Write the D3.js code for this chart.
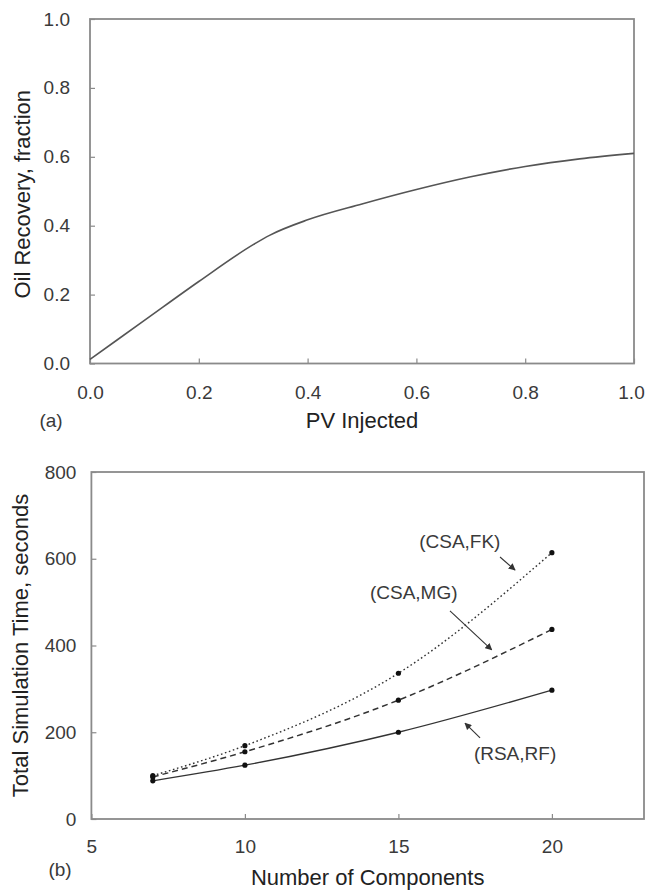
<!DOCTYPE html>
<html>
<head>
<meta charset="utf-8">
<script src="https://cdn.jsdelivr.net/npm/d3@7"></script>
<style>
  html, body { margin: 0; padding: 0; background: #fff; }
  svg { display: block; }
  text { font-family: "Liberation Sans", Arial, Helvetica, sans-serif; }
</style>
</head>
<body>
<svg id="chart" width="646" height="892"></svg>
<script>
// ---------- Data: panel (a) ----------
const pvInjected   = [0.0, 0.1, 0.2, 0.3, 0.33, 0.4, 0.5, 0.6, 0.7, 0.8, 0.9, 1.0];
const oilRecovery  = [0.012, 0.125, 0.238, 0.345, 0.372, 0.417, 0.463, 0.505, 0.542, 0.572, 0.594, 0.610];
const ticksA       = [0.0, 0.2, 0.4, 0.6, 0.8, 1.0];

// ---------- Data: panel (b) ----------
const components   = [7, 10, 15, 20];
const seriesNames  = ["(CSA,FK)", "(CSA,MG)", "(RSA,RF)"];
const timeCSAFK    = [100, 169, 336, 614];
const timeCSAMG    = [97, 155, 274, 437];
const timeRSARF    = [88, 124, 200, 297];
const xTicksB      = [5, 10, 15, 20];
const yTicksB      = [0, 200, 400, 600, 800];

const svg = d3.select("#chart");

const defs = svg.append("defs");
defs.append("marker")
  .attr("id", "arrow")
  .attr("viewBox", "0 0 10 10")
  .attr("refX", 9).attr("refY", 5)
  .attr("markerWidth", 7).attr("markerHeight", 7)
  .attr("markerUnits", "userSpaceOnUse")
  .attr("orient", "auto")
  .append("path")
  .attr("d", "M0,0 L10,5 L0,10 z")
  .attr("fill", "#333");

const frameColor = "#8a8a8a";
const labelColor = "#3a3a3a";

function styleAxis(g) {
  g.select(".domain").remove();
  g.selectAll(".tick line").attr("stroke", frameColor).attr("stroke-width", 1.2);
  g.selectAll(".tick text").attr("fill", labelColor).style("font-size", "19px");
}

// ================= Panel (a) =================
const A = { left: 90, right: 634, top: 19, bottom: 363.5 };
const xA = d3.scaleLinear().domain([0, 1]).range([A.left, A.right]);
const yA = d3.scaleLinear().domain([0, 1]).range([A.bottom, A.top]);

const xAxisA = svg.append("g")
  .attr("transform", `translate(0,${A.bottom})`)
  .call(d3.axisBottom(xA).tickValues(ticksA).tickFormat(d3.format(".1f")).tickSizeInner(-5).tickSizeOuter(0).tickPadding(22))
  .call(styleAxis);
// keep the last label inside the page edge
xAxisA.selectAll(".tick text").filter(d => d === 1).attr("dx", -3);

svg.append("g")
  .attr("transform", `translate(${A.left},0)`)
  .call(d3.axisLeft(yA).tickValues(ticksA).tickFormat(d3.format(".1f")).tickSizeInner(-5).tickSizeOuter(0).tickPadding(20))
  .call(styleAxis);

svg.append("rect")
  .attr("x", A.left).attr("y", A.top)
  .attr("width", A.right - A.left).attr("height", A.bottom - A.top)
  .attr("fill", "none").attr("stroke", frameColor).attr("stroke-width", 1.8);

const dataA = pvInjected.map((p, i) => ({ x: p, y: oilRecovery[i] }));
svg.append("path")
  .datum(dataA)
  .attr("fill", "none")
  .attr("stroke", "#555")
  .attr("stroke-width", 1.6)
  .attr("d", d3.line().x(d => xA(d.x)).y(d => yA(d.y)).curve(d3.curveMonotoneX));

svg.append("text")
  .attr("transform", `translate(22,${(A.top + A.bottom) / 2 + 3}) rotate(-90)`)
  .attr("text-anchor", "middle").attr("dominant-baseline", "central")
  .attr("fill", "#222").style("font-size", "22px")
  .text("Oil Recovery, fraction");

svg.append("text")
  .attr("x", (A.left + A.right) / 2).attr("y", 428)
  .attr("text-anchor", "middle")
  .attr("fill", "#222").style("font-size", "22px")
  .text("PV Injected");

svg.append("text")
  .attr("x", 51).attr("y", 427)
  .attr("text-anchor", "middle")
  .attr("fill", labelColor).style("font-size", "19px")
  .text("(a)");

// ================= Panel (b) =================
const B = { left: 91.4, right: 644, top: 472, bottom: 819 };
const xB = d3.scaleLinear().domain([5, 23]).range([B.left, B.right]);
const yB = d3.scaleLinear().domain([0, 800]).range([B.bottom, B.top]);

svg.append("g")
  .attr("transform", `translate(0,${B.bottom})`)
  .call(d3.axisBottom(xB).tickValues(xTicksB).tickFormat(d3.format("d")).tickSizeInner(-5).tickSizeOuter(0).tickPadding(21))
  .call(styleAxis);

svg.append("g")
  .attr("transform", `translate(${B.left},0)`)
  .call(d3.axisLeft(yB).tickValues(yTicksB).tickFormat(d3.format("d")).tickSizeInner(-5).tickSizeOuter(0).tickPadding(15))
  .call(styleAxis);

svg.append("rect")
  .attr("x", B.left).attr("y", B.top)
  .attr("width", B.right - B.left).attr("height", B.bottom - B.top)
  .attr("fill", "none").attr("stroke", frameColor).attr("stroke-width", 1.8);

const seriesB = [
  { name: seriesNames[0], values: timeCSAFK, dash: "1.6,2.6", width: 1.4 },
  { name: seriesNames[1], values: timeCSAMG, dash: "6,4", width: 1.5 },
  { name: seriesNames[2], values: timeRSARF, dash: null, width: 1.3 }
];

const lineB = d3.line().x(d => xB(d.x)).y(d => yB(d.y)).curve(d3.curveMonotoneX);

seriesB.forEach(s => {
  const pts = components.map((c, i) => ({ x: c, y: s.values[i] }));
  svg.append("path")
    .datum(pts)
    .attr("fill", "none")
    .attr("stroke", "#333")
    .attr("stroke-width", s.width)
    .attr("stroke-dasharray", s.dash)
    .attr("d", lineB);
  svg.append("g").selectAll("circle")
    .data(pts).join("circle")
    .attr("cx", d => xB(d.x)).attr("cy", d => yB(d.y))
    .attr("r", 2.6).attr("fill", "#111");
});

// annotations (label and arrow positions in data units)
const annotations = [
  { text: seriesNames[0], tx: 17.0, ty: 639, ax1: 18.31, ay1: 604, ax2: 18.8, ay2: 574 },
  { text: seriesNames[1], tx: 15.5, ty: 523, ax1: 16.68, ay1: 480, ax2: 18.04, ay2: 390 },
  { text: seriesNames[2], tx: 18.8, ty: 152, ax1: 17.66, ay1: 187, ax2: 17.17, ay2: 221 }
];

annotations.forEach(a => {
  svg.append("text")
    .attr("x", xB(a.tx)).attr("y", yB(a.ty))
    .attr("text-anchor", "middle").attr("dominant-baseline", "central")
    .attr("fill", labelColor).style("font-size", "19px")
    .text(a.text);
  svg.append("line")
    .attr("x1", xB(a.ax1)).attr("y1", yB(a.ay1))
    .attr("x2", xB(a.ax2)).attr("y2", yB(a.ay2))
    .attr("stroke", "#333").attr("stroke-width", 1.1)
    .attr("marker-end", "url(#arrow)");
});

svg.append("text")
  .attr("transform", `translate(20,${(B.top + B.bottom) / 2}) rotate(-90)`)
  .attr("text-anchor", "middle").attr("dominant-baseline", "central")
  .attr("fill", "#222").style("font-size", "22px")
  .text("Total Simulation Time, seconds");

svg.append("text")
  .attr("x", (B.left + B.right) / 2).attr("y", 885)
  .attr("text-anchor", "middle")
  .attr("fill", "#222").style("font-size", "22px")
  .text("Number of Components");

svg.append("text")
  .attr("x", 60).attr("y", 876)
  .attr("text-anchor", "middle")
  .attr("fill", labelColor).style("font-size", "19px")
  .text("(b)");
</script>
</body>
</html>
